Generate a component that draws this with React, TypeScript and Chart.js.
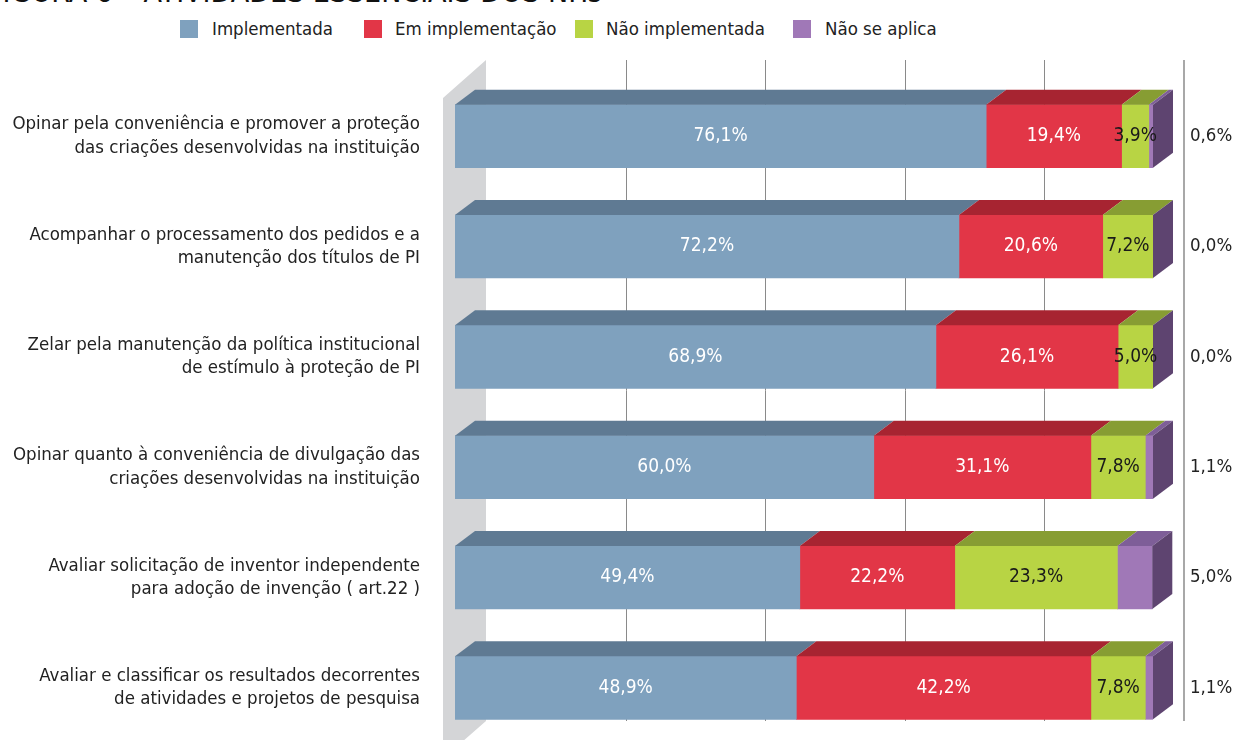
import React, { useEffect, useRef } from "react";
import { Chart, registerables } from "chart.js";

Chart.register(...registerables);

const titleText = "FIGURA 6 – ATIVIDADES ESSENCIAIS DOS NITs";
const categories: string[][] = [
  ["Opinar pela conveniência e promover a proteção", "das criações desenvolvidas na instituição"],
  ["Acompanhar o processamento dos pedidos e a", "manutenção dos títulos de PI"],
  ["Zelar pela manutenção da política institucional", "de estímulo à proteção de PI"],
  ["Opinar quanto à conveniência de divulgação das", "criações desenvolvidas na instituição"],
  ["Avaliar solicitação de inventor independente", "para adoção de invenção ( art.22 )"],
  ["Avaliar e classificar os resultados decorrentes", "de atividades e projetos de pesquisa"],
];
const seriesNames = ["Implementada", "Em implementação", "Não implementada", "Não se aplica"];
const implementada = [76.1, 72.2, 68.9, 60.0, 49.4, 48.9];
const emImplementacao = [19.4, 20.6, 26.1, 31.1, 22.2, 42.2];
const naoImplementada = [3.9, 7.2, 5.0, 7.8, 23.3, 7.8];
const naoSeAplica = [0.6, 0.0, 0.0, 1.1, 5.0, 1.1];
const gridTicks = [20, 40, 60, 80];
const axisMax = 100;

const frontColors = ["#7FA1BE", "#E23647", "#B8D444", "#A078B7"];
const topColors = ["#5F7A93", "#A72431", "#879D33", "#7E5E98"];
const sideColor = "#5E4470";
const labelColors = ["#FFFFFF", "#FFFFFF", "#1A1A1A", "#1A1A1A"];

const FONT = '"Liberation Sans Narrow", "DejaVu Sans Condensed", "Arial Narrow", sans-serif';
const DX = 20;
const DY = 15;
const WALL_DX = 31;

const fmt = (v: number) => v.toFixed(1).replace(".", ",") + "%";

const threeDPlugin = {
  id: "threeD",
  beforeDatasetsDraw(chart: any) {
    const { ctx, chartArea, scales } = chart;
    const x = scales.x;
    const x0 = x.getPixelForValue(0);
    const gridTop = chartArea.top - 21;
    const gridBottom = 721;
    const H = chart.height;
    ctx.save();
    // left wall
    ctx.fillStyle = "#D4D5D7";
    ctx.beginPath();
    ctx.moveTo(x0 - 12, gridTop + 38);
    ctx.lineTo(x0 + WALL_DX, gridTop);
    ctx.lineTo(x0 + WALL_DX, gridBottom);
    ctx.lineTo(x0 + WALL_DX - 24, gridBottom + 21);
    ctx.lineTo(x0 - 12, H);
    ctx.closePath();
    ctx.fill();
    // grid lines
    ctx.strokeStyle = "#8A8A8A";
    ctx.lineWidth = 1;
    gridTicks.forEach((v) => {
      const px = Math.round(x.getPixelForValue(v) + WALL_DX) + 0.5;
      ctx.beginPath();
      ctx.moveTo(px, gridTop);
      ctx.lineTo(px, gridBottom);
      ctx.stroke();
    });
    // right boundary
    ctx.strokeStyle = "#A8A8A8";
    ctx.lineWidth = 2;
    const pr = Math.round(x.getPixelForValue(axisMax) + WALL_DX);
    ctx.beginPath();
    ctx.moveTo(pr, gridTop);
    ctx.lineTo(pr, gridBottom);
    ctx.stroke();
    ctx.restore();
  },
  afterDatasetsDraw(chart: any) {
    const { ctx, scales } = chart;
    const x = scales.x;
    const n = chart.data.labels.length;
    const nd = chart.data.datasets.length;
    ctx.save();
    for (let i = 0; i < n; i++) {
      let endX = -Infinity;
      let top = 0;
      let bottom = 0;
      for (let d = 0; d < nd; d++) {
        const el = chart.getDatasetMeta(d).data[i];
        const p = el.getProps(["x", "base", "y", "height"], true);
        const left = Math.min(p.x, p.base);
        const right = Math.max(p.x, p.base);
        top = p.y - p.height / 2;
        bottom = p.y + p.height / 2;
        if (right - left > 0.01) {
          ctx.fillStyle = topColors[d];
          ctx.beginPath();
          ctx.moveTo(left, top);
          ctx.lineTo(left + DX, top - DY);
          ctx.lineTo(right + DX, top - DY);
          ctx.lineTo(right, top);
          ctx.closePath();
          ctx.fill();
        }
        endX = Math.max(endX, right);
      }
      // side face
      ctx.fillStyle = sideColor;
      ctx.beginPath();
      ctx.moveTo(endX, top);
      ctx.lineTo(endX + DX, top - DY);
      ctx.lineTo(endX + DX, bottom - DY);
      ctx.lineTo(endX, bottom);
      ctx.closePath();
      ctx.fill();
      // labels
      ctx.font = `19px ${FONT}`;
      ctx.textBaseline = "middle";
      ctx.textAlign = "center";
      for (let d = 0; d < nd - 1; d++) {
        const el = chart.getDatasetMeta(d).data[i];
        const p = el.getProps(["x", "base", "y"], true);
        const v = chart.data.datasets[d].data[i];
        ctx.fillStyle = labelColors[d];
        ctx.fillText(fmt(v), (p.x + p.base) / 2, p.y);
      }
      const lastEl = chart.getDatasetMeta(nd - 1).data[i];
      const lp = lastEl.getProps(["y"], true);
      ctx.textAlign = "left";
      ctx.fillStyle = "#222222";
      ctx.font = `18.5px ${FONT}`;
      ctx.fillText(fmt(chart.data.datasets[nd - 1].data[i]), x.getPixelForValue(axisMax) + WALL_DX + 6, lp.y);
    }
    ctx.restore();
  },
};

export default function App() {
  const ref = useRef<HTMLCanvasElement>(null);
  useEffect(() => {
    if (!ref.current) return;
    const series = [implementada, emImplementacao, naoImplementada, naoSeAplica];
    const chart = new Chart(ref.current, {
      type: "bar",
      data: {
        labels: categories as any,
        datasets: series.map((s, i) => ({
          label: seriesNames[i],
          data: s,
          backgroundColor: frontColors[i],
          borderWidth: 0,
          barThickness: 63,
        })),
      },
      options: {
        indexAxis: "y",
        responsive: false,
        animation: false,
        devicePixelRatio: 1,
        layout: { padding: { top: 81, bottom: 17, left: 0, right: 83 } },
        plugins: { legend: { display: false }, tooltip: { enabled: false }, title: { display: false } },
        scales: {
          x: { stacked: true, min: 0, max: axisMax, display: false },
          y: {
            stacked: true,
            grid: { display: false, drawTicks: false },
            border: { display: false },
            ticks: { color: "#222222", padding: 35, font: { family: FONT, size: 18.5, lineHeight: 1.25 } },
            afterFit: (scale: any) => {
              scale.width = 455;
              scale.paddingTop = 0;
              scale.paddingBottom = 0;
            },
          },
        },
      },
      plugins: [threeDPlugin],
    });
    return () => chart.destroy();
  }, []);

  const legendBoxX = [180, 364, 575, 793];
  const legendTextX = [212, 395, 606, 825];

  return (
    <div style={{ position: "fixed", left: 0, top: 0, width: 1236, height: 740, overflow: "hidden", background: "#fff" }}>
      <div style={{ position: "absolute", left: -13, top: -23, fontFamily: FONT, fontSize: 30, lineHeight: "30px", color: "#111", whiteSpace: "nowrap" }}>
        {titleText}
      </div>
      {seriesNames.map((name, i) => (
        <React.Fragment key={name}>
          <div style={{ position: "absolute", left: legendBoxX[i], top: 20, width: 18, height: 18, background: frontColors[i] }} />
          <div style={{ position: "absolute", left: legendTextX[i], top: 18, lineHeight: "22px", fontFamily: FONT, fontSize: 18.5, color: "#222", whiteSpace: "nowrap" }}>
            {name}
          </div>
        </React.Fragment>
      ))}
      <canvas ref={ref} width={1236} height={760} style={{ position: "absolute", left: 0, top: 0 }} />
    </div>
  );
}
